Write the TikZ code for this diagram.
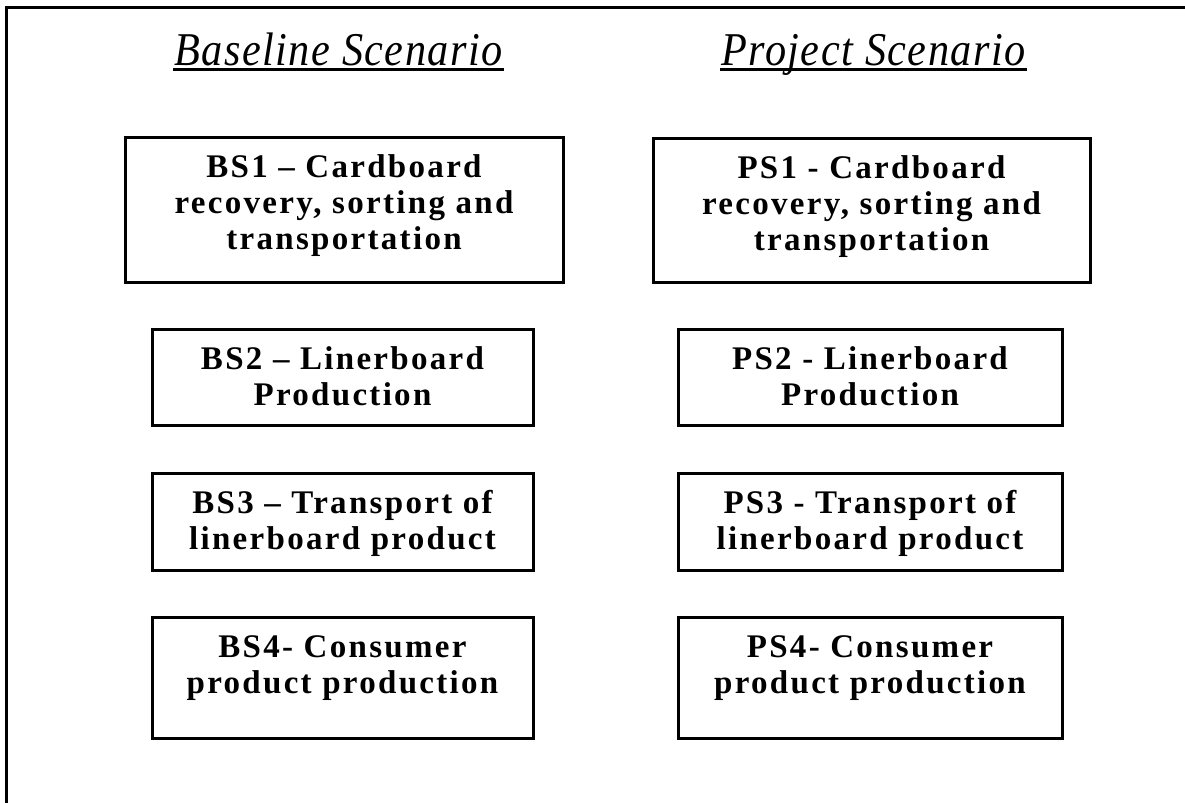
\documentclass[tikz,border=0pt]{standalone}
\usepackage{fontspec}
\usepackage{tikz}
\newfontfamily\stagefamily[LetterSpace=7]{Liberation Serif}
\newfontfamily\headfamily[LetterSpace=3,FakeStretch=0.9]{Liberation Serif}
\newcommand{\stagetext}[3]{\parbox[c][#2][t]{#1}{\centering\rule{0pt}{20pt}#3}}
\tikzset{
  stage/.style = {draw, line width = 1.5pt, inner sep = 0pt,
    font = \stagefamily\bfseries\fontsize{16.5}{18}\selectfont},
  heading/.style = {inner sep = 0pt, anchor = base,
    font = \headfamily\itshape\fontsize{23.5}{26}\selectfont}
}
\begin{document}
\begin{tikzpicture}[x = 0.5pt, y = -0.5pt, line width = 1.5pt]
\useasboundingbox (0,0) rectangle (1185,803);
\draw (1185,7) -- (6.5,7) -- (6.5,803);
\node[heading] (hb) at (338.5,65) {Baseline Scenario};
\node[heading] (hp) at (873.5,65) {Project Scenario};
\draw ([yshift = -2.2pt]hb.base west) -- ([yshift = -2.2pt]hb.base east);
\draw ([yshift = -2.2pt]hp.base west) -- ([yshift = -2.2pt]hp.base east);
\node[stage] (bs1) at (344,209.5) {\stagetext{219pt}{72.5pt}{BS1 – Cardboard\\recovery, sorting and\\transportation}};
\node[stage] (bs2) at (342.5,377) {\stagetext{190.5pt}{48pt}{BS2 – Linerboard\\Production}};
\node[stage] (bs3) at (342.5,521.5) {\stagetext{190.5pt}{48.5pt}{BS3 – Transport of\\linerboard product}};
\node[stage] (bs4) at (342.5,677.5) {\stagetext{190.5pt}{60.5pt}{BS4- Consumer\\product production}};
\node[stage] (ps1) at (871.5,210) {\stagetext{218.5pt}{72pt}{PS1 - Cardboard\\recovery, sorting and\\transportation}};
\node[stage] (ps2) at (870,377) {\stagetext{192pt}{48pt}{PS2 - Linerboard\\Production}};
\node[stage] (ps3) at (870,521.5) {\stagetext{192pt}{48.5pt}{PS3 - Transport of\\linerboard product}};
\node[stage] (ps4) at (870,677.5) {\stagetext{192pt}{60.5pt}{PS4- Consumer\\product production}};
\end{tikzpicture}
\end{document}
